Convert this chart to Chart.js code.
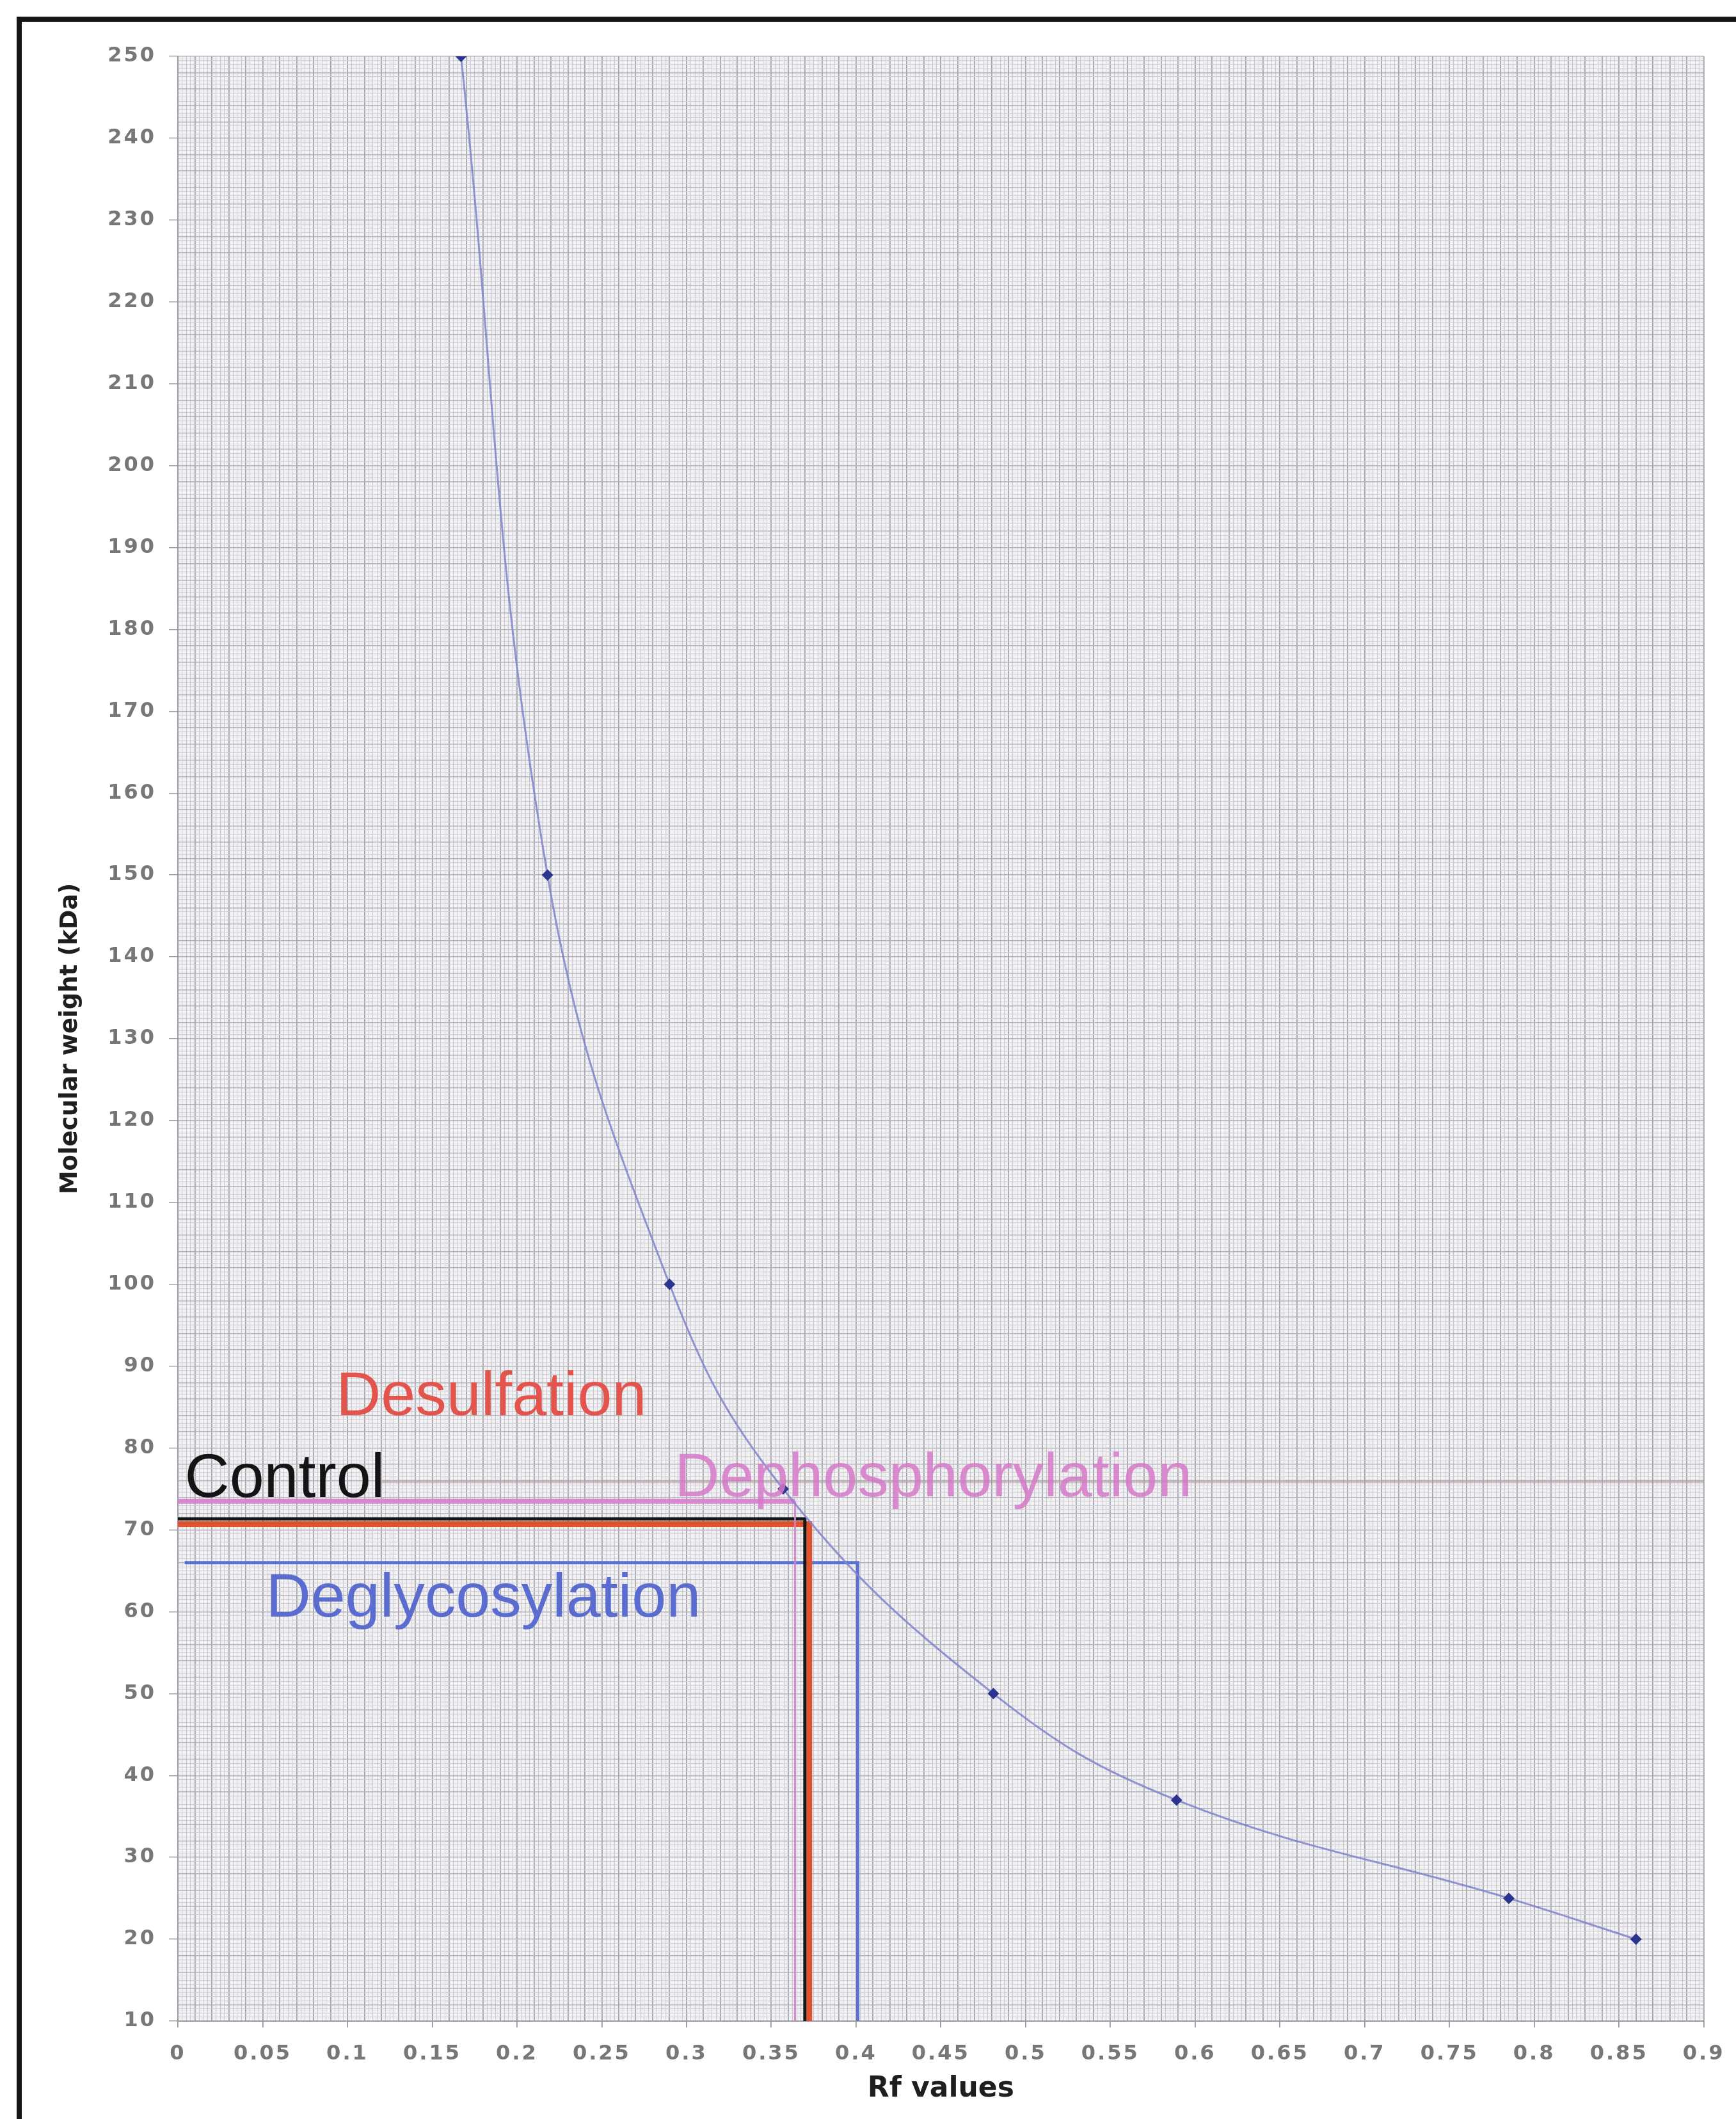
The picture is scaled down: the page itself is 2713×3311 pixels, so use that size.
<!DOCTYPE html>
<html>
<head>
<meta charset="utf-8">
<title>Rf standard curve</title>
<script src="https://cdn.jsdelivr.net/npm/chart.js@4.4.1/dist/chart.umd.min.js"></script>
<style>
  html, body { margin: 0; padding: 0; background: #fff; }
  #wrap { position: relative; width: 2713px; height: 3311px; overflow: hidden; }
  #frame {
    position: absolute; left: 26px; top: 26px; width: 3000px; height: 4000px;
    border-left: 8px solid #141414; border-top: 8px solid #141414;
    pointer-events: none;
  }
</style>
</head>
<body>
<div id="wrap">
  <canvas id="chart"></canvas>
  <div id="frame"></div>
</div>
<script>
// Protein ladder: Rf of each band and its size (kDa)
const ladderRf = [0.167, 0.218, 0.290, 0.357, 0.481, 0.589, 0.785, 0.860];
const ladderMW = [250, 150, 100, 75, 50, 37, 25, 20];

// Samples
const sampleNames = ['Dephosphorylation', 'Control', 'Desulfation', 'Deglycosylation'];
const sampleRf = [0.364, 0.3698, 0.3724, 0.401];
const sampleMW = [73.5, 71.35, 70.7, 66.0];
const sampleLineStart = [0, 0, 0, 0.004];

// faint grey line left on the sheet
const guideMW = 75.9;
const guideRf = [0.12, 0.9];

// axis labels
const xTicks = [0, 0.05, 0.1, 0.15, 0.2, 0.25, 0.3, 0.35, 0.4, 0.45,
                0.5, 0.55, 0.6, 0.65, 0.7, 0.75, 0.8, 0.85, 0.9];
const yTicks = [10, 20, 30, 40, 50, 60, 70, 80, 90, 100, 110, 120, 130,
                140, 150, 160, 170, 180, 190, 200, 210, 220, 230, 240, 250];

// look of the sample lines and their captions
const sampleStyle = {
    Dephosphorylation: { color: 'rgba(214,128,204,0.9)', hWidth: 8, vWidth: 3, text: 'rgba(214,120,200,0.85)', tx: 0.293, ty: 74.1 },
    Control:           { color: '#161616', hWidth: 5, vWidth: 5, text: '#141414', tx: 0.004, ty: 74.0 },
    Desulfation:       { color: '#e2522e', hWidth: 9, vWidth: 9, text: '#e2544c', tx: 0.0933, ty: 84.05 },
    Deglycosylation:   { color: '#5a72d2', hWidth: 5, vWidth: 5, text: '#5a6ccf', tx: 0.052, ty: 59.4 }
};

const datasets = [{
    label: 'Ladder',
    data: ladderRf.map((x, i) => ({ x: x, y: ladderMW[i] })),
    borderColor: 'rgba(128,132,204,0.85)',
    borderWidth: 3,
    tension: 0.4,
    pointStyle: 'rectRot',
    pointRadius: 9,
    pointBackgroundColor: '#2a3590',
    pointBorderWidth: 0
}];

sampleNames.forEach((name, i) => {
    const s = sampleStyle[name];
    datasets.push({
        label: name,
        data: [
            { x: sampleLineStart[i], y: sampleMW[i] },
            { x: sampleRf[i], y: sampleMW[i] },
            { x: sampleRf[i], y: 10 }
        ],
        borderColor: s.color,
        borderWidth: s.hWidth,
        borderJoinStyle: 'miter',
        segment: {
            borderWidth: c => c.p0DataIndex === 0 ? s.hWidth : s.vWidth
        },
        tension: 0,
        pointRadius: 0
    });
});

datasets.push({
    label: 'guide',
    data: guideRf.map(x => ({ x: x, y: guideMW })),
    borderColor: 'rgba(178,160,160,0.55)',
    borderWidth: 5,
    pointRadius: 0
});

function isTick(list, v) {
    return list.some(t => Math.abs(t - v) < 1e-6);
}

// shaded paper behind the grid
const paperPlugin = {
    id: 'paper',
    beforeDraw(chart) {
        const a = chart.chartArea;
        const c = chart.ctx;
        c.save();
        c.fillStyle = '#f1f0f3';
        c.fillRect(a.left, a.top, a.right - a.left, a.bottom - a.top);
        c.restore();
    }
};

// captions next to the lines, then wider spacing for the tick labels
const captionPlugin = {
    id: 'captions',
    afterDatasetsDraw(chart) {
        const c = chart.ctx;
        const xs = chart.scales.x;
        const ys = chart.scales.y;
        c.save();
        c.font = '97px "Liberation Sans", Arial, sans-serif';
        c.textAlign = 'left';
        c.textBaseline = 'alphabetic';
        sampleNames.forEach(name => {
            const s = sampleStyle[name];
            c.fillStyle = s.text;
            c.fillText(name, xs.getPixelForValue(s.tx), ys.getPixelForValue(s.ty));
        });
        c.restore();
        c.letterSpacing = '3px';
    },
    afterDraw(chart) {
        chart.ctx.letterSpacing = '0px';
    }
};

const tickFont = { family: '"DejaVu Sans", Verdana, sans-serif', size: 32, weight: 'bold' };

new Chart(document.getElementById('chart'), {
    type: 'line',
    data: { datasets: datasets },
    options: {
        responsive: true,
        maintainAspectRatio: false,
        animation: false,
        layout: { padding: { top: 88, right: 45, bottom: 0, left: 0 } },
        plugins: {
            legend: { display: false },
            tooltip: { enabled: false }
        },
        scales: {
            x: {
                type: 'linear',
                min: 0,
                max: 0.9,
                afterFit: scale => { scale.height = 153; },
                ticks: {
                    stepSize: 0.0025,
                    autoSkip: false,
                    maxRotation: 0,
                    padding: 22,
                    z: 1,
                    color: '#777',
                    font: tickFont,
                    callback: v => isTick(xTicks, v) ? String(+v.toFixed(2)) : ''
                },
                grid: {
                    color: c => Math.round(c.tick.value * 10000) % 100 === 0 ? '#a4a2ab' : '#cac8cf',
                    lineWidth: c => Math.round(c.tick.value * 10000) % 100 === 0 ? 1.8 : 1,
                    tickLength: 10,
                    tickColor: c => isTick(xTicks, c.tick.value) ? '#999' : 'rgba(0,0,0,0)'
                },
                border: { color: '#9d9aa6', width: 2 },
                title: {
                    display: true,
                    text: 'Rf values',
                    color: '#1e1e1e',
                    font: { family: '"DejaVu Sans", Verdana, sans-serif', size: 44, weight: 'bold' },
                    padding: { top: 0, bottom: 20 }
                }
            },
            y: {
                type: 'linear',
                min: 10,
                max: 250,
                afterFit: scale => { scale.width = 278; },
                ticks: {
                    stepSize: 0.5,
                    autoSkip: false,
                    padding: 20,
                    z: 1,
                    color: '#777',
                    font: tickFont,
                    callback: v => isTick(yTicks, v) ? String(v) : ''
                },
                grid: {
                    color: c => Math.round(c.tick.value * 10) % 20 === 0 ? '#b4b2ba' : '#d0ced5',
                    lineWidth: c => Math.round(c.tick.value * 10) % 20 === 0 ? 1.4 : 1,
                    tickLength: 14,
                    tickColor: c => isTick(yTicks, c.tick.value) ? '#999' : 'rgba(0,0,0,0)'
                },
                border: { color: '#9d9aa6', width: 2 },
                title: {
                    display: true,
                    text: 'Molecular weight (kDa)',
                    color: '#1e1e1e',
                    font: { family: '"DejaVu Sans", Verdana, sans-serif', size: 37, weight: 'bold' },
                    padding: { top: 88, bottom: 0 }
                }
            }
        }
    },
    plugins: [paperPlugin, captionPlugin]
});
</script>
</body>
</html>
